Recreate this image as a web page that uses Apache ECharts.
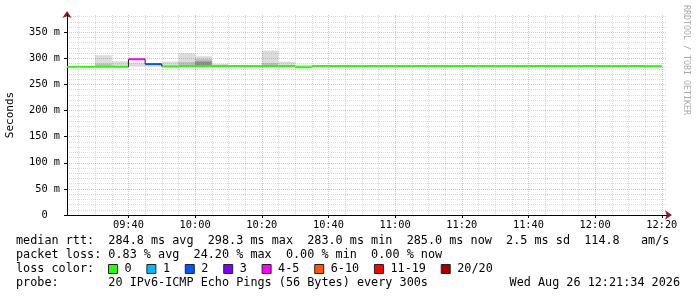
<!DOCTYPE html>
<html>
<head>
<meta charset="utf-8">
<script src="https://cdn.jsdelivr.net/npm/echarts@6/dist/echarts.min.js"></script>
<style>
  html, body { margin: 0; padding: 0; background: #fff; }
  #chart { width: 697px; height: 297px; }
</style>
</head>
<body>
<div id="chart"></div>
<script>
// visible window and step of the rrd
const viewStart = '09:21:34';
const viewEnd = '12:21:34';
const firstStep = '09:20';
const stepMinutes = 5;

// one value per 5 minute step, 09:20 .. 12:15
const medianMs = [
  283.8, 283.8, 283.8, 283.8, 298.3, 289.0, 284.5, 285.2, 285.2, 285.3,
  285.3, 285.3, 285.3, 285.3, 283.0, 285.3, 285.3, 285.3, 285.3, 285.3,
  285.3, 285.3, 285.3, 285.3, 285.3, 285.3, 285.3, 285.3, 285.3, 285.3,
  285.3, 285.3, 285.3, 285.3, 285.3, 285.0
];
const lossCount = [
  0, 0, 0, 0, 5, 2, 0, 0, 0, 0,
  0, 0, 0, 0, 0, 0, 0, 0, 0, 0,
  0, 0, 0, 0, 0, 0, 0, 0, 0, 0,
  0, 0, 0, 0, 0, 0
];
// smoke: outer band, inner band, core band (null = none)
const smokeLow = [
  283.5, 283.5, 283.0, 283.0, 284.0, 284.0, 283.5, 283.0, 284.0, 284.0,
  284.5, 284.5, 283.0, 283.0, 282.0, 284.5, 284.5, 284.5, 284.5, 284.5,
  284.5, 284.5, 284.5, 284.5, 284.5, 284.5, 284.5, 284.5, 284.5, 284.5,
  284.5, 284.5, 284.5, 284.5, 284.5, 284.5
];
const smokeHigh = [
  285.0, 285.0, 306.0, 294.5, 292.0, 288.0, 294.0, 310.0, 304.0, 289.5,
  287.0, 286.0, 315.0, 293.5, 288.0, 286.5, 286.5, 286.5, 286.5, 286.5,
  286.5, 286.5, 286.5, 286.5, 286.5, 286.5, 286.5, 286.5, 286.5, 286.5,
  286.5, 286.5, 286.5, 286.5, 286.5, 286.5
];
const smokeInnerLow = [
  null, null, 283.5, null, null, null, null, 284.0, 285.0, null,
  null, null, 284.0, null, null, null, null, null, null, null,
  null, null, null, null, null, null, null, null, null, null,
  null, null, null, null, null, null
];
const smokeInnerHigh = [
  null, null, 290.0, null, null, null, null, 293.0, 298.5, null,
  null, null, 291.0, null, null, null, null, null, null, null,
  null, null, null, null, null, null, null, null, null, null,
  null, null, null, null, null, null
];
const smokeCoreLow = [
  null, null, null, null, null, null, null, null, 286.0, null,
  null, null, null, null, null, null, null, null, null, null,
  null, null, null, null, null, null, null, null, null, null,
  null, null, null, null, null, null
];
const smokeCoreHigh = [
  null, null, null, null, null, null, null, null, 294.0, null,
  null, null, null, null, null, null, null, null, null, null,
  null, null, null, null, null, null, null, null, null, null,
  null, null, null, null, null, null
];

const lossLabels = ['0', '1', '2', '3', '4-5', '6-10', '11-19', '20/20'];
const lossUpper = [0, 1, 2, 3, 5, 10, 19, 20];
const lossColors = ['#26ff00', '#00b8ff', '#0059ff', '#7e00ff', '#ff00ff', '#ff5500', '#ff0000', '#a10000'];

const xTickLabels = ['09:40', '10:00', '10:20', '10:40', '11:00', '11:20', '11:40', '12:00', '12:20'];
const xMinorTicks = ['09:25', '09:30', '09:35', '09:45', '09:50', '09:55', '10:05', '10:10', '10:15',
  '10:25', '10:30', '10:35', '10:45', '10:50', '10:55', '11:05', '11:10', '11:15',
  '11:25', '11:30', '11:35', '11:45', '11:50', '11:55', '12:05', '12:10', '12:15'];
const yTickValues = [0, 50, 100, 150, 200, 250, 300, 350];
const yMinorTicks = [10, 20, 30, 40, 60, 70, 80, 90, 110, 120, 130, 140, 160, 170, 180, 190,
  210, 220, 230, 240, 260, 270, 280, 290, 310, 320, 330, 340, 360, 370, 380];
const yMax = 383;

const statLines = [
  'median rtt:  284.8 ms avg  298.3 ms max  283.0 ms min  285.0 ms now  2.5 ms sd  114.8   am/s',
  'packet loss: 0.83 % avg  24.20 % max  0.00 % min  0.00 % now'
];
const lossTitle = 'loss color:';
const probeLine = 'probe:       20 IPv6-ICMP Echo Pings (56 Bytes) every 300s';
const dateLine = 'Wed Aug 26 12:21:34 2026';
const watermark = 'RRDTOOL / TOBI OETIKER';

const mono = 'DejaVu Sans Mono';

function toMin(s) {
  const p = s.split(':').map(Number);
  return p[0] * 60 + p[1] + (p[2] || 0) / 60;
}
function fmtMin(v) {
  const h = Math.floor(v / 60), m = Math.round(v - h * 60);
  return String(h).padStart(2, '0') + ':' + String(m).padStart(2, '0');
}
const xMin = toMin(viewStart);
const xMax = toMin(viewEnd);
const stepStart = i => toMin(firstStep) + i * stepMinutes;
const clampX = v => Math.min(Math.max(v, xMin), xMax);
const lossCat = n => lossUpper.findIndex(u => n <= u);

const chart = echarts.init(document.getElementById('chart'));

function medianSeries(ci) {
  const data = [];
  medianMs.forEach((v, i) => {
    if (lossCat(lossCount[i]) === ci) {
      data.push([clampX(stepStart(i)), clampX(stepStart(i) + stepMinutes), v]);
    }
  });
  return {
    type: 'custom',
    name: lossLabels[ci],
    xAxisIndex: 0,
    yAxisIndex: 0,
    z: 6,
    itemStyle: { color: lossColors[ci] },
    encode: { x: [0, 1], y: 2 },
    data: data,
    renderItem: (params, api) => {
      const a = api.coord([api.value(0), api.value(2)]);
      const b = api.coord([api.value(1), api.value(2)]);
      return {
        type: 'line',
        shape: { x1: a[0], y1: a[1], x2: b[0], y2: b[1] },
        style: { stroke: lossColors[ci], lineWidth: 2 }
      };
    }
  };
}

// vertical joints where the median colour changes
const jointData = [];
for (let i = 1; i < medianMs.length; i++) {
  if (lossCat(lossCount[i]) !== lossCat(lossCount[i - 1])) {
    jointData.push([stepStart(i), medianMs[i - 1], medianMs[i]]);
  }
}

const smokeData = medianMs.map((m, i) => [
  clampX(stepStart(i)), clampX(stepStart(i) + stepMinutes),
  smokeLow[i], smokeHigh[i], smokeInnerLow[i], smokeInnerHigh[i], smokeCoreLow[i], smokeCoreHigh[i]
]);
const smokeColors = ['#dcdcdc', '#bebebe', '#8c8c8c'];

const gridLine = (color) => ({ show: true, lineStyle: { color: color, width: 1, type: [1, 1] } });

chart.setOption({
  backgroundColor: '#fff',
  animation: false,
  grid: { left: 67, right: 30, top: 15, bottom: 82, containLabel: false, outerBoundsMode: 'none' },
  xAxis: [
    {
      type: 'value', min: xMin, max: xMax, position: 'bottom', z: 4,
      axisLine: { show: true, lineStyle: { color: '#000', width: 1 } },
      axisTick: { show: true, length: 3, customValues: xTickLabels.map(toMin), lineStyle: { color: '#000' } },
      axisLabel: {
        customValues: xTickLabels.map(toMin), formatter: fmtMin, margin: 5,
        fontFamily: mono, fontSize: 10.3, color: '#000'
      },
      splitLine: gridLine('rgba(240,60,60,0.38)')
    },
    {
      type: 'value', min: xMin, max: xMax, position: 'bottom', z: 3,
      axisLine: {
        show: true, symbol: ['none', 'arrow'], symbolSize: [7, 7], symbolOffset: [0, 5],
        lineStyle: { color: '#8b1a1a', width: 1 }
      },
      axisTick: { show: false, customValues: xMinorTicks.map(toMin) },
      axisLabel: { show: false },
      splitLine: gridLine('rgba(130,130,130,0.3)')
    }
  ],
  yAxis: [
    {
      type: 'value', min: 0, max: yMax, position: 'left', z: 4,
      name: 'Seconds', nameLocation: 'middle', nameRotate: 90, nameGap: 51,
      nameTextStyle: { fontFamily: mono, fontSize: 11, color: '#000' },
      axisLine: { show: true, lineStyle: { color: '#000', width: 1 } },
      axisTick: { show: true, length: 3, customValues: yTickValues, lineStyle: { color: '#000' } },
      axisLabel: {
        customValues: yTickValues, margin: 7,
        formatter: v => (v === 0 ? '0\u00a0\u00a0' : v + ' m'),
        fontFamily: mono, fontSize: 10.3, color: '#000'
      },
      splitLine: gridLine('rgba(240,60,60,0.38)')
    },
    {
      type: 'value', min: 0, max: yMax, position: 'left', z: 3,
      axisLine: {
        show: true, symbol: ['none', 'arrow'], symbolSize: [7, 7], symbolOffset: [0, 4],
        lineStyle: { color: '#8b1a1a', width: 1 }
      },
      axisTick: { show: false, customValues: yMinorTicks },
      axisLabel: { show: false },
      splitLine: gridLine('rgba(130,130,130,0.3)')
    }
  ],
  legend: {
    left: 108, top: 263, padding: 0, orient: 'horizontal',
    itemWidth: 9, itemHeight: 9, itemGap: 14.8, icon: 'rect', selectedMode: false,
    itemStyle: { borderColor: '#222', borderWidth: 1 },
    textStyle: { fontFamily: mono, fontSize: 11.8, color: '#000', padding: [0, 0, 0, 2] },
    data: lossLabels.map((l, i) => ({ name: l, itemStyle: { color: lossColors[i] } }))
  },
  series: [
    {
      type: 'custom', name: 'smoke', xAxisIndex: 0, yAxisIndex: 0, z: 2,
      encode: { x: [0, 1], y: [2, 3] },
      data: smokeData,
      renderItem: (params, api) => {
        const x0 = api.value(0), x1 = api.value(1);
        const children = [];
        for (let k = 0; k < 3; k++) {
          const lo = api.value(2 + k * 2), hi = api.value(3 + k * 2);
          if (lo == null || hi == null || isNaN(lo) || isNaN(hi)) continue;
          const a = api.coord([x0, hi]);
          const b = api.coord([x1, lo]);
          children.push({
            type: 'rect',
            shape: { x: a[0], y: a[1], width: b[0] - a[0], height: b[1] - a[1] },
            style: { fill: smokeColors[k] }
          });
        }
        return { type: 'group', children: children };
      }
    },
    ...lossLabels.map((l, ci) => medianSeries(ci)),
    {
      type: 'custom', name: 'joints', xAxisIndex: 0, yAxisIndex: 0, z: 7,
      encode: { x: 0, y: [1, 2] },
      data: jointData,
      renderItem: (params, api) => {
        const a = api.coord([api.value(0), api.value(1)]);
        const b = api.coord([api.value(0), api.value(2)]);
        return {
          type: 'line',
          shape: { x1: a[0], y1: a[1], x2: b[0], y2: b[1] },
          style: { stroke: '#222', lineWidth: 1 }
        };
      }
    }
  ],
  graphic: [
    { type: 'text', left: 16, top: 235, style: { text: statLines[0], font: '11.8px "' + mono + '"', fill: '#000' } },
    { type: 'text', left: 16, top: 249, style: { text: statLines[1], font: '11.8px "' + mono + '"', fill: '#000' } },
    { type: 'text', left: 16, top: 263, style: { text: lossTitle, font: '11.8px "' + mono + '"', fill: '#000' } },
    { type: 'text', left: 16, top: 277, style: { text: probeLine, font: '11.8px "' + mono + '"', fill: '#000' } },
    { type: 'text', right: 17, top: 277, style: { text: dateLine, font: '11.8px "' + mono + '"', fill: '#000' } },
    {
      type: 'text', x: 686, y: 5, rotation: -Math.PI / 2,
      style: { text: watermark, font: '8.3px "' + mono + '"', fill: '#aaa', textAlign: 'left', textVerticalAlign: 'middle' }
    }
  ]
});
</script>
</body>
</html>
